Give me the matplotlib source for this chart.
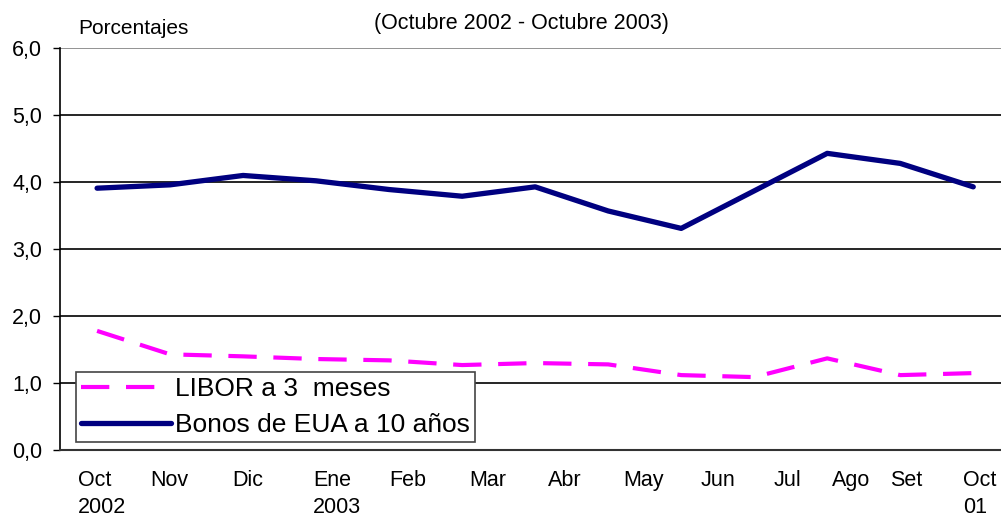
import matplotlib.pyplot as plt

# monthly values, Oct 2002 - Oct 2003
months = list(range(13))
libor_3m = [1.78, 1.43, 1.40, 1.36, 1.34, 1.27, 1.30, 1.28, 1.12, 1.09, 1.37, 1.12, 1.15]
bonos_10y = [3.91, 3.96, 4.10, 4.02, 3.89, 3.79, 3.93, 3.57, 3.31, 3.87, 4.43, 4.28, 3.93]

month_labels = ["Oct\n2002", "Nov", "Dic", "Ene\n2003", "Feb", "Mar", "Abr",
                "May", "Jun", "Jul", "Ago", "Set", "Oct\n01"]
label_pos = [-0.26, 0.73, 1.85, 2.96, 4.0, 5.1, 6.18, 7.2, 8.27, 9.26, 10.07, 10.86, 11.86]
y_ticks = [0, 1, 2, 3, 4, 5, 6]

plt.rcParams['font.family'] = ['Liberation Sans', 'DejaVu Sans']

fig = plt.figure(figsize=(10.01, 5.18), dpi=100)
ax = fig.add_axes([0.06, 0.131, 0.94, 0.776])

for y in y_ticks[1:]:
    ax.axhline(y, color='black' if y < 6 else '#808080', lw=1.2, zorder=1)

ax.plot(months, libor_3m, color='#FF00FF', lw=3.0, dashes=(6.8, 4.0),
        dash_capstyle='butt', label='LIBOR a 3  meses', zorder=3)
ax.plot(months, bonos_10y, color='#000080', lw=3.8, solid_capstyle='round',
        label='Bonos de EUA a 10 años', zorder=3)

ax.set_xlim(-0.507, 12.38)
ax.set_ylim(0, 6)
ax.set_yticks(y_ticks)
ax.set_yticklabels([f"{v},0" for v in y_ticks], fontsize=15.5)
ax.tick_params(axis='y', length=5, width=1, pad=8)
ax.set_xticks([])

for s in ['top', 'right']:
    ax.spines[s].set_visible(False)
ax.spines['left'].set_linewidth(1.2)
ax.spines['bottom'].set_linewidth(1.5)
ax.spines['bottom'].set_color('#333333')

for x, lab in zip(label_pos, month_labels):
    ax.text(x, -0.30, lab, ha='left', va='top', fontsize=15.5,
            linespacing=1.33, transform=ax.transData, clip_on=False)

fig.text(78 / 1001, 1 - 28 / 518, "Porcentajes", fontsize=15, va='center', ha='left')
fig.text(521 / 1001, 1 - 23 / 518, "(Octubre 2002 - Octubre 2003)", fontsize=15.5,
         va='center', ha='center')

leg = ax.legend(loc='lower left', bbox_to_anchor=(0.017, 0.02), fontsize=19,
                frameon=True, fancybox=False, framealpha=1, edgecolor='#444444',
                handlelength=3.4, handletextpad=0.15, borderpad=0.2,
                labelspacing=0.45, borderaxespad=0)
leg.get_frame().set_linewidth(1.2)

fig.savefig("out.png", dpi=100)
